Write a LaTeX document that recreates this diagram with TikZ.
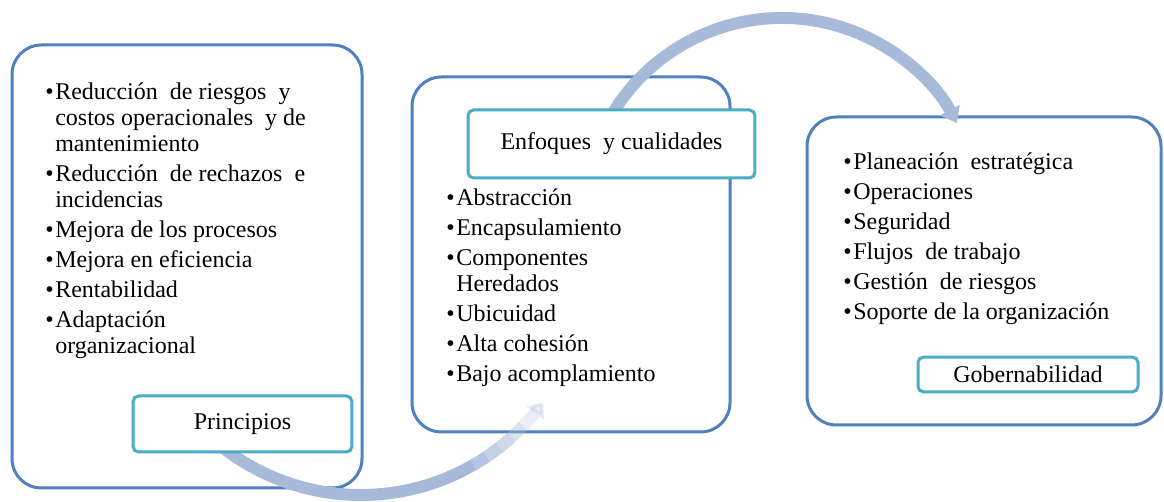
\documentclass[tikz,border=0pt]{standalone}
\usepackage{fontspec}
\setmainfont{Liberation Serif}
\usetikzlibrary{arrows.meta}

\definecolor{boxblue}{RGB}{79,129,189}
\definecolor{tagteal}{RGB}{75,172,198}
\definecolor{flowblue}{RGB}{168,186,218}

\tikzset{
  bigbox/.style={draw=boxblue, line width=2.25pt, rounded corners=22pt, fill=white},
  tagbox/.style={draw=tagteal, line width=2.25pt, rounded corners=4pt, fill=white,
    inner sep=1pt, font=\fontsize{18}{21}\selectfont},
  flow/.style={draw=flowblue, line width=9pt},
  items/.style={anchor=north west, inner sep=0pt, align=left,
    font=\fontsize{18}{19.5}\selectfont},
}
\newcommand{\bul}{\makebox[7.5pt][l]{•}}
\newcommand{\cont}{\hspace*{7.5pt}}

\begin{document}
\begin{tikzpicture}[x=0.75pt,y=0.75pt]
  \useasboundingbox (0,0) rectangle (1164,502);
  % frames
  \draw[bigbox] (12,14) rectangle (362,457);
  \draw[bigbox] (412,70) rectangle (730,425);
  \draw[bigbox] (807,77) rectangle (1161,385);
  % arc centres
  \coordinate (c1) at (361,232);
  \coordinate (c2) at (782,286);
  % lower arrow, fading out
  \draw[flow] (c1) ++(228:225) arc[start angle=228, delta angle=72, radius=225];
  \foreach \a/\o in {300/0.85,304/0.7,308/0.55,312/0.4}
    \draw[flow, draw opacity=\o] (c1) ++(\a:225) arc[start angle=\a, delta angle=4, radius=225];
  \draw[flow, opacity=0.25, -{Triangle[width=16pt,length=10pt]}]
    (c1) ++(316:225) arc[start angle=316, delta angle=8, radius=225];
  % upper arrow
  \draw[flow, -{Triangle[width=16pt,length=11pt]}]
    (c2) ++(155:198) arc[start angle=155, end angle=28, radius=198];
  % tags
  \node[tagbox, minimum width=164pt, minimum height=42pt] (princ) at (242.5,78) {Principios};
  \node[tagbox, minimum width=215pt, minimum height=51pt] (enfoq) at (611.5,358) {Enfoques\ \ y cualidades};
  \node[tagbox, minimum width=165pt, minimum height=26pt] (gober) at (1028,127.5) {Gobernabilidad};
  % lists
  \node[items] (lprin) at (45,419) {\bul Reducción\ \ de riesgos\ \ y\\
    \cont costos operacionales\ \ y de\\
    \cont mantenimiento\\[3pt]
    \bul Reducción\ \ de rechazos\ \ e\\
    \cont incidencias\\[3pt]
    \bul Mejora de los procesos\\[3pt]
    \bul Mejora en eficiencia\\[3pt]
    \bul Rentabilidad\\[3pt]
    \bul Adaptación\\
    \cont organizacional};
  \node[items] (lenfo) at (446,313) {\bul Abstracción\\[3pt]
    \bul Encapsulamiento\\[3pt]
    \bul Componentes\\
    \cont Heredados\\[3pt]
    \bul Ubicuidad\\[3pt]
    \bul Alta cohesión\\[3pt]
    \bul Bajo acomplamiento};
  \node[items] (lgobe) at (843,349) {\bul Planeación\ \ estratégica\\[3pt]
    \bul Operaciones\\[3pt]
    \bul Seguridad\\[3pt]
    \bul Flujos\ \ de trabajo\\[3pt]
    \bul Gestión\ \ de riesgos\\[3pt]
    \bul Soporte de la organización};
\end{tikzpicture}
\end{document}
